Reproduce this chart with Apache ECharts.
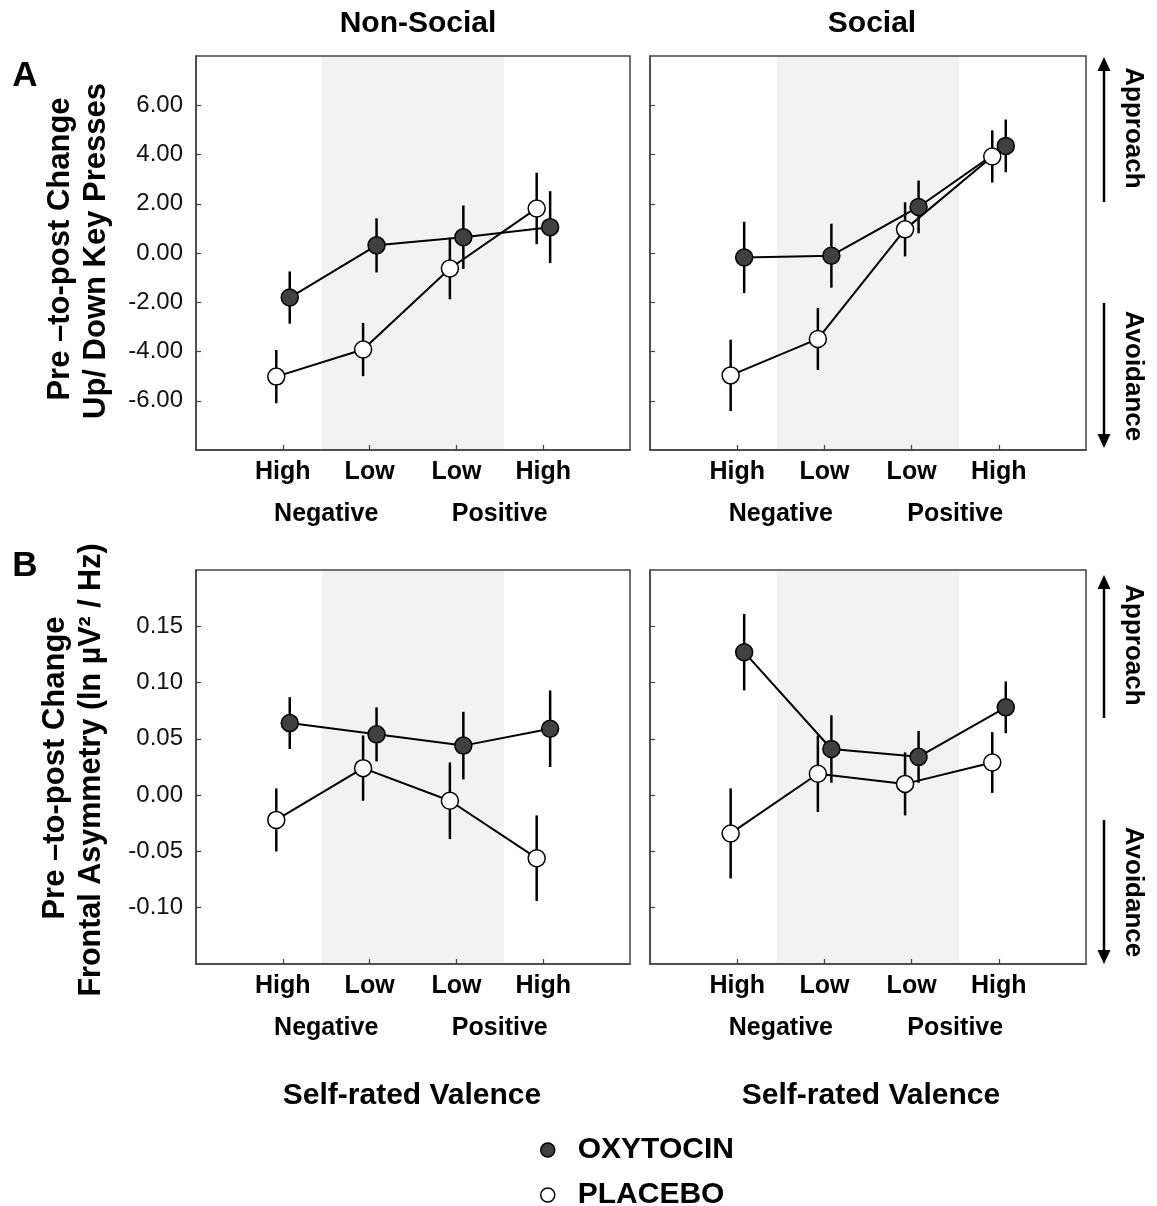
<!DOCTYPE html>
<html>
<head>
<meta charset="utf-8">
<script src="https://cdn.jsdelivr.net/npm/echarts@6/dist/echarts.min.js"></script>
<style>html,body{margin:0;padding:0;background:#fff}#c{width:1157px;height:1206px}</style>
</head>
<body>
<div id="c"></div>
<script>
// ---------- DATA ----------
const categories = ['High', 'Low', 'Low', 'High'];
const categoryPos = [1, 2, 3, 4];
const valenceGroups = ['Negative', 'Positive'];
const valenceGroupPos = [1.5, 3.5];
const panelTitles = ['Non-Social', 'Social'];
const seriesNames = ['OXYTOCIN', 'PLACEBO'];
const keyTicks = [-6, -4, -2, 0, 2, 4, 6];
const asymTicks = [-0.10, -0.05, 0, 0.05, 0.10, 0.15];
const lowArousalBand = [1.45, 3.55];

// Panel A: key presses
const keyOxyNonSocial = [-1.81, 0.31, 0.64, 1.05];
const keyOxyNonSocialErr = [1.06, 1.10, 1.29, 1.46];
const keyPlaNonSocial = [-5.02, -3.92, -0.63, 1.81];
const keyPlaNonSocialErr = [1.08, 1.08, 1.25, 1.45];
const keyOxySocial = [-0.18, -0.11, 1.87, 4.35];
const keyOxySocialErr = [1.45, 1.30, 1.07, 1.07];
const keyPlaSocial = [-4.97, -3.49, 0.96, 3.92];
const keyPlaSocialErr = [1.45, 1.26, 1.10, 1.06];

// Panel B: frontal asymmetry
const asymOxyNonSocial = [0.064, 0.054, 0.044, 0.059];
const asymOxyNonSocialErr = [0.023, 0.024, 0.030, 0.034];
const asymPlaNonSocial = [-0.022, 0.024, -0.005, -0.056];
const asymPlaNonSocialErr = [0.028, 0.029, 0.034, 0.038];
const asymOxySocial = [0.127, 0.041, 0.034, 0.078];
const asymOxySocialErr = [0.034, 0.030, 0.023, 0.023];
const asymPlaSocial = [-0.034, 0.019, 0.010, 0.029];
const asymPlaSocialErr = [0.040, 0.034, 0.028, 0.027];

// ---------- LAYOUT / STYLE ----------
const FONT = "'Liberation Sans', Arial, sans-serif";
const FRAME = '#444';
const OXY_FILL = '#404040';
const oxyShift = 0.08, plaShift = -0.075;
const gridLeft = [196, 650], gridWidth = [434, 436];
const gridTop = [56, 570], gridHeight = 394;

const panels = [
  { row: 0, col: 0, ox: keyOxyNonSocial, oxE: keyOxyNonSocialErr, pl: keyPlaNonSocial, plE: keyPlaNonSocialErr },
  { row: 0, col: 1, ox: keyOxySocial, oxE: keyOxySocialErr, pl: keyPlaSocial, plE: keyPlaSocialErr },
  { row: 1, col: 0, ox: asymOxyNonSocial, oxE: asymOxyNonSocialErr, pl: asymPlaNonSocial, plE: asymPlaNonSocialErr },
  { row: 1, col: 1, ox: asymOxySocial, oxE: asymOxySocialErr, pl: asymPlaSocial, plE: asymPlaSocialErr }
];

const grids = [], xAxes = [], yAxes = [], series = [];

panels.forEach((p, i) => {
  grids.push({ left: gridLeft[p.col], top: gridTop[p.row], width: gridWidth[p.col], height: gridHeight,
    show: true, borderColor: FRAME, borderWidth: 1.5, backgroundColor: 'transparent', z: 2 });
  xAxes.push({
    gridIndex: i, type: 'value', min: 0, max: 5, interval: 1, position: 'bottom', z: 3,
    axisLine: { show: true, onZero: false, lineStyle: { color: FRAME, width: 1.5 } },
    axisTick: { show: true, inside: true, length: 5, customValues: categoryPos, lineStyle: { color: FRAME, width: 1.2 } },
    axisLabel: { customValues: categoryPos, formatter: v => categories[Math.round(v) - 1] || '',
      fontFamily: FONT, fontWeight: 'bold', fontSize: 25, color: '#000', margin: 10 },
    splitLine: { show: false }
  });
  xAxes.push({
    gridIndex: i, type: 'value', min: 0, max: 5, interval: 0.5, position: 'bottom', offset: 42,
    axisLine: { show: false }, axisTick: { show: false }, splitLine: { show: false },
    axisLabel: { customValues: valenceGroupPos, formatter: v => valenceGroups[Math.round((v - 1.5) / 2)] || '',
      fontFamily: FONT, fontWeight: 'bold', fontSize: 25, color: '#000', margin: 10 }
  });
  const ticks = p.row === 0 ? keyTicks : asymTicks;
  yAxes.push({
    gridIndex: i, type: 'value', z: 3,
    min: p.row === 0 ? -8 : -0.15, max: p.row === 0 ? 8 : 0.20, interval: p.row === 0 ? 2 : 0.05,
    axisLine: { show: true, onZero: false, lineStyle: { color: FRAME, width: 1.5 } },
    axisTick: { show: true, inside: true, length: 5, customValues: ticks, lineStyle: { color: FRAME, width: 1.2 } },
    axisLabel: { show: p.col === 0, customValues: ticks, formatter: v => v.toFixed(2),
      fontFamily: FONT, fontSize: 24, color: '#111', margin: 13 },
    splitLine: { show: false }
  });

  // shaded band for low-arousal categories
  series.push({
    type: 'custom', xAxisIndex: 2 * i, yAxisIndex: i, z: 0, silent: true,
    data: [[lowArousalBand[0], lowArousalBand[1]]],
    renderItem: (params, api) => {
      const cs = params.coordSys;
      const a = api.coord([api.value(0), 0]);
      const b = api.coord([api.value(1), 0]);
      return { type: 'rect', shape: { x: a[0], y: cs.y, width: b[0] - a[0], height: cs.height },
        style: { fill: '#f2f2f2' } };
    }
  });

  const groupsDef = [
    { name: seriesNames[0], m: p.ox, e: p.oxE, shift: oxyShift, fill: OXY_FILL },
    { name: seriesNames[1], m: p.pl, e: p.plE, shift: plaShift, fill: '#fff' }
  ];
  groupsDef.forEach(g => {
    series.push({
      type: 'custom', name: g.name + ' error', xAxisIndex: 2 * i, yAxisIndex: i, z: 4, silent: true,
      encode: { x: 0, y: [1, 2] },
      data: g.m.map((v, k) => [categoryPos[k] + g.shift, v - g.e[k], v + g.e[k]]),
      renderItem: (params, api) => {
        const x = api.value(0);
        const p1 = api.coord([x, api.value(1)]);
        const p2 = api.coord([x, api.value(2)]);
        return { type: 'line', shape: { x1: p1[0], y1: p1[1], x2: p2[0], y2: p2[1] },
          style: { stroke: '#000', lineWidth: 2.5 } };
      }
    });
  });
  groupsDef.forEach(g => {
    series.push({
      type: 'line', name: g.name, xAxisIndex: 2 * i, yAxisIndex: i, z: 5,
      data: g.m.map((v, k) => [categoryPos[k] + g.shift, v]),
      symbol: 'circle', symbolSize: 17, showSymbol: true,
      lineStyle: { color: '#000', width: 2 },
      itemStyle: { color: g.fill, borderColor: '#000', borderWidth: 1.5 },
      emphasis: { disabled: true }, animation: false
    });
  });
});

// ---------- ANNOTATIONS ----------
const graphic = [];
function txt(text, x, y, size, opts) {
  graphic.push(Object.assign({
    type: 'text', x: x, y: y, rotation: 0,
    style: { text: text, fontFamily: FONT, fontSize: size, fontWeight: 'bold', fill: '#000',
      textAlign: 'center', textVerticalAlign: 'middle' }
  }, opts || {}));
}
txt(panelTitles[0], 418, 24, 30);
txt(panelTitles[1], 872, 24, 30);
txt('A', 25, 76, 35);
txt('B', 25, 566, 35);
txt('Pre \u2013to-post Change', 60, 249, 31, { rotation: Math.PI / 2 });
txt('Up/ Down Key Presses', 96, 251, 31, { rotation: Math.PI / 2 });
txt('Pre \u2013to-post Change', 55, 768, 31, { rotation: Math.PI / 2 });
txt('Frontal Asymmetry (ln \u00b5V\u00b2 / Hz)', 92, 770, 30.5, { rotation: Math.PI / 2 });
txt('Self-rated Valence', 412, 1096, 30);
txt('Self-rated Valence', 871, 1096, 30);

const arrowX = 1104;
function arrow(yFrom, yTip) {
  const dir = yTip < yFrom ? -1 : 1;
  graphic.push({ type: 'line', shape: { x1: arrowX, y1: yFrom, x2: arrowX, y2: yTip - dir * 10 },
    style: { stroke: '#000', lineWidth: 2.5 } });
  graphic.push({ type: 'polygon', shape: { points: [[arrowX, yTip], [arrowX - 6.5, yTip - dir * 14], [arrowX + 6.5, yTip - dir * 14]] },
    style: { fill: '#000' } });
}
arrow(202, 57); arrow(303, 448);
arrow(718, 575); arrow(820, 964);
txt('Approach', 1133, 128, 26, { rotation: -Math.PI / 2 });
txt('Avoidance', 1133, 376, 26, { rotation: -Math.PI / 2 });
txt('Approach', 1133, 645, 26, { rotation: -Math.PI / 2 });
txt('Avoidance', 1133, 892, 26, { rotation: -Math.PI / 2 });

function legendItem(idx, top, fill) {
  return {
    orient: 'vertical', left: 540, top: top, padding: 0,
    itemWidth: 50, itemHeight: 14, icon: 'circle', selectedMode: false,
    textStyle: { fontFamily: FONT, fontWeight: 'bold', fontSize: 30, color: '#000', lineHeight: 32 },
    data: [{ name: seriesNames[idx], itemStyle: { color: fill, borderColor: '#000', borderWidth: 1.5 } }]
  };
}

const chart = echarts.init(document.getElementById('c'), null, { renderer: 'canvas' });
chart.setOption({
  animation: false,
  backgroundColor: '#fff',
  grid: grids,
  xAxis: xAxes,
  yAxis: yAxes,
  series: series,
  graphic: graphic,
  legend: [legendItem(0, 1134, OXY_FILL), legendItem(1, 1179, '#fff')]
});
</script>
</body>
</html>
